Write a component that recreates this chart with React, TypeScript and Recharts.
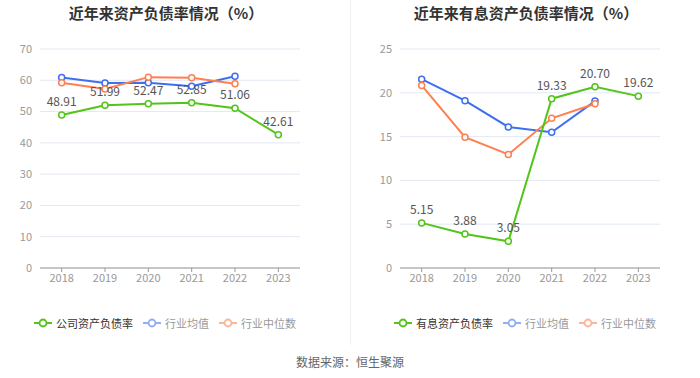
import { LineChart, Line, XAxis, YAxis, CartesianGrid, LabelList } from 'recharts'

const years = ['2018', '2019', '2020', '2021', '2022', '2023']

const companyDebt = [48.91, 51.99, 52.47, 52.85, 51.06, 42.61]
const industryAvgDebt = [60.9, 59.1, 59.2, 58.1, 61.3, null]
const industryMedDebt = [59.2, 57.2, 61.0, 60.8, 58.9, null]

const interestDebt = [5.15, 3.88, 3.05, 19.33, 20.7, 19.62]
const industryAvgInterest = [21.56, 19.1, 16.1, 15.5, 19.05, null]
const industryMedInterest = [20.84, 14.93, 12.96, 17.09, 18.75, null]

const leftTicks = [0, 10, 20, 30, 40, 50, 60, 70]
const rightTicks = [0, 5, 10, 15, 20, 25]

const GREEN = '#52c41a'
const BLUE = '#3e6ff0'
const ORANGE = '#ff7f50'
const FONT = '"Noto Sans CJK SC", "Noto Sans", sans-serif'

const buildRows = (a: number[], b: (number | null)[], c: (number | null)[]) =>
  years.map((y, i) => ({ year: y, main: a[i], avg: b[i], med: c[i] }))

function LegendItem({ color, label, dark }: { color: string; label: string; dark?: boolean }) {
  return (
    <span style={{ display: 'inline-flex', alignItems: 'center', marginRight: 10 }}>
      <svg width={18} height={10} style={{ marginRight: 4 }}>
        <line x1={0} y1={5} x2={18} y2={5} stroke={color} strokeWidth={2} />
        <circle cx={9} cy={5} r={3.5} fill="#fff" stroke={color} strokeWidth={1.8} />
      </svg>
      <span style={{ color: dark ? '#333' : '#999' }}>{label}</span>
    </span>
  )
}

function Panel({
  title,
  mainName,
  rows,
  ticks,
  max,
  left,
  yWidth,
  rightMargin,
}: {
  title: string
  mainName: string
  rows: any[]
  ticks: number[]
  max: number
  left: number
  yWidth: number
  rightMargin: number
}) {
  const center = yWidth + (350 - yWidth - rightMargin) / 2
  return (
    <div style={{ position: 'absolute', left, top: 0, width: 350, height: 340 }}>
      <div
        style={{
          position: 'absolute',
          top: 2,
          left: center - 154,
          width: 300,
          textAlign: 'center',
          fontSize: 15,
          fontWeight: 'bold',
          color: '#333',
        }}
      >
        {title}
      </div>
      <div style={{ position: 'absolute', top: 0, left: 0 }}>
        <LineChart width={350} height={300} data={rows} margin={{ top: 49, right: rightMargin, left: 0, bottom: 0 }}>
          <CartesianGrid vertical={false} stroke="#e3e8f2" />
          <XAxis
            dataKey="year"
            scale="band"
            height={32}
            tick={{ fontSize: 11, fill: '#999' }}
            axisLine={{ stroke: '#999' }}
            tickLine={{ stroke: '#999' }}
            tickSize={4}
          />
          <YAxis
            width={yWidth}
            domain={[0, max]}
            ticks={ticks}
            tick={{ fontSize: 11, fill: '#999' }}
            axisLine={false}
            tickLine={false}
          />
          <Line
            dataKey="avg"
            stroke={BLUE}
            strokeWidth={2}
            dot={{ r: 3, fill: '#fff', strokeWidth: 1.5 }}
            isAnimationActive={false}
          />
          <Line
            dataKey="med"
            stroke={ORANGE}
            strokeWidth={2}
            dot={{ r: 3, fill: '#fff', strokeWidth: 1.5 }}
            isAnimationActive={false}
          />
          <Line
            dataKey="main"
            stroke={GREEN}
            strokeWidth={2}
            dot={{ r: 3, fill: '#fff', strokeWidth: 1.5 }}
            isAnimationActive={false}
          >
            <LabelList
              dataKey="main"
              position="top"
              offset={9}
              formatter={(v: any) => Number(v).toFixed(2)}
              style={{ fontSize: 12, fill: '#555' }}
            />
          </Line>
        </LineChart>
      </div>
      <div
        style={{
          position: 'absolute',
          top: 315,
          left: center - 150,
          width: 300,
          textAlign: 'center',
          fontSize: 11,
          whiteSpace: 'nowrap',
        }}
      >
        <LegendItem color={GREEN} label={mainName} dark />
        <LegendItem color="#8fb0f5" label="行业均值" />
        <LegendItem color="#ffb497" label="行业中位数" />
      </div>
    </div>
  )
}

export default function App() {
  return (
    <div
      style={{
        position: 'absolute',
        left: 0,
        top: 0,
        width: 700,
        height: 378,
        background: '#fff',
        fontFamily: FONT,
      }}
    >
      <Panel
        title="近年来资产负债率情况（%）"
        mainName="公司资产负债率"
        rows={buildRows(companyDebt, industryAvgDebt, industryMedDebt)}
        ticks={leftTicks}
        max={70}
        left={0}
        yWidth={40}
        rightMargin={50}
      />
      <Panel
        title="近年来有息资产负债率情况（%）"
        mainName="有息资产负债率"
        rows={buildRows(interestDebt, industryAvgInterest, industryMedInterest)}
        ticks={rightTicks}
        max={25}
        left={350}
        yWidth={50}
        rightMargin={40}
      />
      <div style={{ position: 'absolute', left: 350, top: 0, width: 1, height: 345, background: '#f0f0f0' }} />
      <div
        style={{
          position: 'absolute',
          top: 353,
          left: 0,
          width: 700,
          textAlign: 'center',
          fontSize: 12,
          color: '#666',
        }}
      >
        数据来源：恒生聚源
      </div>
    </div>
  )
}
